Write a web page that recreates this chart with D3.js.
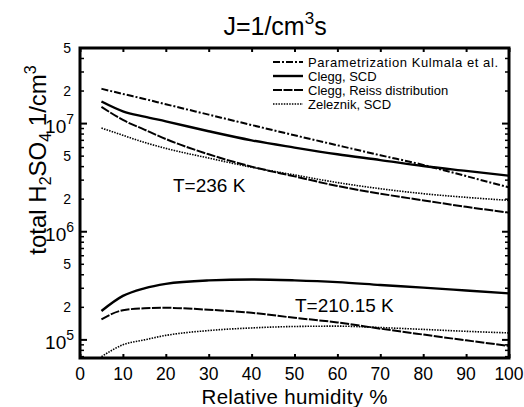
<!DOCTYPE html>
<html>
<head>
<meta charset="utf-8">
<script src="https://cdn.jsdelivr.net/npm/d3@7"></script>
<style>
  body { margin: 0; background: #fff; }
  text { font-family: "Liberation Sans", Arial, sans-serif; fill: #000; }
</style>
</head>
<body>
<div id="chart"></div>
<script>
// relative humidity (%) where the curves were read
const rh = [5, 10, 15, 20, 30, 40, 50, 60, 70, 80, 90, 100];

// T = 236 K
const kulmala236 = [2.1e7, 1.88e7, 1.69e7, 1.51e7, 1.21e7, 9.7e6, 7.8e6, 6.3e6, 5.1e6, 4.15e6, 3.27e6, 2.57e6];
const cleggScd236 = [1.6e7, 1.3e7, 1.16e7, 1.05e7, 8.5e6, 7.0e6, 6.0e6, 5.2e6, 4.6e6, 4.05e6, 3.65e6, 3.3e6];
const cleggReiss236 = [1.43e7, 1.08e7, 8.8e6, 7.2e6, 5.2e6, 4.0e6, 3.25e6, 2.65e6, 2.25e6, 1.95e6, 1.7e6, 1.5e6];
const zeleznik236 = [9.1e6, 7.8e6, 6.7e6, 5.9e6, 4.8e6, 3.95e6, 3.35e6, 2.85e6, 2.5e6, 2.25e6, 2.08e6, 1.95e6];

// T = 210.15 K
const cleggScd210 = [1.85e5, 2.55e5, 3.0e5, 3.3e5, 3.55e5, 3.62e5, 3.55e5, 3.42e5, 3.22e5, 3.04e5, 2.86e5, 2.69e5];
const cleggReiss210 = [1.55e5, 1.88e5, 1.96e5, 1.98e5, 1.9e5, 1.78e5, 1.6e5, 1.45e5, 1.27e5, 1.12e5, 9.9e4, 8.8e4];
const zeleznik210 = [7.0e4, 9.0e4, 1.0e5, 1.1e5, 1.22e5, 1.29e5, 1.33e5, 1.34e5, 1.3e5, 1.25e5, 1.2e5, 1.16e5];

const xTicks = [0, 10, 20, 30, 40, 50, 60, 70, 80, 90, 100];
const yMajor = [1e5, 1e6, 1e7];
const yLabelled = [2e5, 5e5, 2e6, 5e6, 2e7, 5e7];
const yLabelText = ["2", "5", "2", "5", "2", "5"];
const legendNames = ["Parametrization Kulmala et al.", "Clegg, SCD", "Clegg, Reiss distribution", "Zeleznik, SCD"];

const width = 524, height = 407;
const mLeft = 80, mRight = 509, mTop = 48, mBottom = 358;

const svg = d3.select("#chart").append("svg")
    .attr("width", width)
    .attr("height", height);

const x = d3.scaleLinear().domain([0, 100]).range([mLeft, mRight]);
const y = d3.scaleLog().domain([6.8e4, 5e7]).range([mBottom, mTop]);

// line styles per model
const styles = {
    kulmala: { w: 2, dash: "7,2,2,2" },
    scd: { w: 2.4, dash: null },
    reiss: { w: 2, dash: "9,1.5" },
    zel: { w: 1.6, dash: "1.5,1.2" }
};

const series = [
    { v: kulmala236, s: styles.kulmala },
    { v: cleggScd236, s: styles.scd },
    { v: cleggReiss236, s: styles.reiss },
    { v: zeleznik236, s: styles.zel },
    { v: cleggScd210, s: styles.scd },
    { v: cleggReiss210, s: styles.reiss },
    { v: zeleznik210, s: styles.zel }
];

const line = d3.line()
    .x((d, i) => x(rh[i]))
    .y(d => y(d))
    .curve(d3.curveMonotoneX);

svg.append("g").selectAll("path")
    .data(series)
    .enter()
    .append("path")
    .attr("d", d => line(d.v))
    .attr("fill", "none")
    .attr("stroke", "#000")
    .attr("stroke-width", d => d.s.w)
    .attr("stroke-dasharray", d => d.s.dash);

// y minor ticks 2..9 for each decade
let yMinor = [];
[1e4, 1e5, 1e6, 1e7].forEach(dec => {
    for (let m = 2; m <= 9; m++) {
        const v = m * dec;
        if (v >= 6.8e4 && v <= 5e7) yMinor.push(v);
    }
});

function yTicks(g, side) {
    const sgn = side === "left" ? 1 : -1;
    const x0 = side === "left" ? mLeft : mRight;
    g.selectAll(".minor").data(yMinor).enter().append("line")
        .attr("x1", x0).attr("x2", x0 + sgn * 4)
        .attr("y1", d => y(d)).attr("y2", d => y(d))
        .attr("stroke", "#000").attr("stroke-width", 1.5);
    g.selectAll(".major").data(yMajor).enter().append("line")
        .attr("x1", x0).attr("x2", x0 + sgn * 7)
        .attr("y1", d => y(d)).attr("y2", d => y(d))
        .attr("stroke", "#000").attr("stroke-width", 2);
}
yTicks(svg.append("g"), "left");
yTicks(svg.append("g"), "right");

// x ticks, bottom and top, inward
const xAxisBottom = d3.axisBottom(x).tickValues(xTicks).tickSize(-4).tickFormat("");
const xAxisTop = d3.axisTop(x).tickValues(xTicks).tickSize(-4).tickFormat("");
svg.append("g").attr("transform", `translate(0,${mBottom})`).call(xAxisBottom)
    .call(g => g.select(".domain").remove())
    .selectAll("line").attr("stroke-width", 2);
svg.append("g").attr("transform", `translate(0,${mTop})`).call(xAxisTop)
    .call(g => g.select(".domain").remove())
    .selectAll("line").attr("stroke-width", 2);

// frame
svg.append("rect")
    .attr("x", mLeft).attr("y", mTop)
    .attr("width", mRight - mLeft).attr("height", mBottom - mTop)
    .attr("fill", "none").attr("stroke", "#000").attr("stroke-width", 3);

// x tick labels
svg.append("g").selectAll("text")
    .data(xTicks)
    .enter().append("text")
    .attr("x", d => x(d))
    .attr("y", 380)
    .attr("text-anchor", "middle")
    .attr("font-size", 17.5)
    .text(d => d);

// y tick labels
svg.append("g").selectAll("text")
    .data(yLabelled)
    .enter().append("text")
    .attr("x", 71)
    .attr("y", d => y(d) + 5)
    .attr("text-anchor", "end")
    .attr("font-size", 14)
    .text((d, i) => yLabelText[i]);

const decLabels = svg.append("g").selectAll("text")
    .data(yMajor)
    .enter().append("text")
    .attr("x", 74)
    .attr("y", d => y(d) + 9)
    .attr("text-anchor", "end")
    .attr("font-size", 19);
decLabels.append("tspan").text("10");
decLabels.append("tspan")
    .attr("dy", -9)
    .attr("font-size", 14)
    .text(d => Math.round(Math.log10(d)));

// axis titles
svg.append("text")
    .attr("x", (mLeft + mRight) / 2)
    .attr("y", 404)
    .attr("text-anchor", "middle")
    .attr("font-size", 20.5)
    .attr("textLength", 186)
    .text("Relative humidity %");

const yt = svg.append("text")
    .attr("transform", "translate(46,160) rotate(-90)")
    .attr("text-anchor", "middle")
    .attr("font-size", 24);
yt.append("tspan").text("total H");
yt.append("tspan").attr("font-size", 16).attr("dy", 5).text("2");
yt.append("tspan").attr("dy", -5).text("SO");
yt.append("tspan").attr("font-size", 16).attr("dy", 5).text("4");
yt.append("tspan").attr("dy", -5).text(" 1/cm");
yt.append("tspan").attr("font-size", 16).attr("dy", -10).text("3");

// title
const title = svg.append("text")
    .attr("x", 275)
    .attr("y", 35)
    .attr("text-anchor", "middle")
    .attr("font-size", 25);
title.append("tspan").text("J=1/cm");
title.append("tspan").attr("font-size", 17).attr("dy", -11).text("3");
title.append("tspan").attr("dy", 11).text("s");

// temperature annotations
svg.append("text").attr("x", 173).attr("y", 192).attr("font-size", 19).text("T=236 K");
svg.append("text").attr("x", 295).attr("y", 312).attr("font-size", 19).text("T=210.15 K");

// legend
const legendStyles = [styles.kulmala, styles.scd, styles.reiss, styles.zel];
const legend = svg.append("g").selectAll("g")
    .data(legendNames)
    .enter().append("g")
    .attr("transform", (d, i) => `translate(273,${62 + i * 14})`);
legend.append("line")
    .attr("x1", 0).attr("x2", 30)
    .attr("y1", 0).attr("y2", 0)
    .attr("stroke", "#000")
    .attr("stroke-width", (d, i) => legendStyles[i].w)
    .attr("stroke-dasharray", (d, i) => legendStyles[i].dash);
legend.append("text")
    .attr("x", 35)
    .attr("y", 4.5)
    .attr("font-size", 13)
    .attr("textLength", (d, i) => i === 0 ? 190 : null)
    .text(d => d);
</script>
</body>
</html>
